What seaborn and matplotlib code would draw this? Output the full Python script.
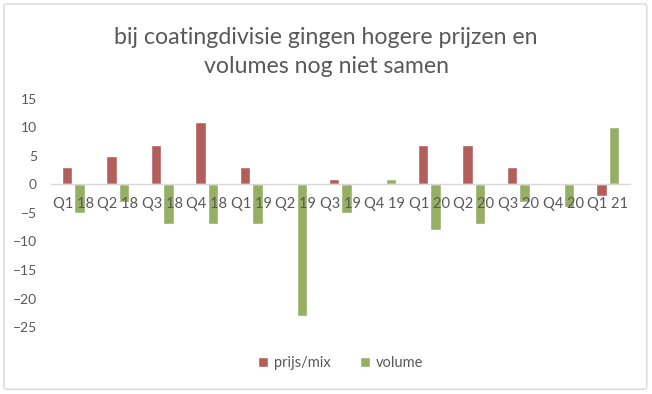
import matplotlib

matplotlib.use("Agg")
import matplotlib.pyplot as plt
import pandas as pd
import seaborn as sns
from matplotlib.patches import FancyBboxPatch

quarters = ["Q1 18", "Q2 18", "Q3 18", "Q4 18", "Q1 19", "Q2 19", "Q3 19",
            "Q4 19", "Q1 20", "Q2 20", "Q3 20", "Q4 20", "Q1 21"]
prijs_mix = [3, 5, 7, 11, 3, 0, 1, 0, 7, 7, 3, 0, -2]
volume = [-5, -3, -7, -7, -7, -23, -5, 1, -8, -7, -3, -4, 10]
series_names = ["prijs/mix", "volume"]
y_ticks = [-25, -20, -15, -10, -5, 0, 5, 10, 15]
title_lines = ["bij coatingdivisie gingen hogere prijzen en", "volumes nog niet samen"]

df = pd.DataFrame({
    "kwartaal": quarters * 2,
    "waarde": prijs_mix + volume,
    "reeks": [series_names[0]] * len(quarters) + [series_names[1]] * len(quarters),
})

sns.set_theme(style="white")
plt.rcParams["font.family"] = ["Lato", "DejaVu Sans"]
grey = "#595959"

fig = plt.figure(figsize=(6.52, 3.94), dpi=100)
ax = fig.add_axes([0.078, 0.170, 0.888, 0.579])

sns.barplot(data=df, x="kwartaal", y="waarde", hue="reeks", order=quarters,
            hue_order=series_names, palette=["#C0504D", "#9BBB59"],
            width=0.56, gap=0.16, ax=ax, legend=True)

ax.set_ylim(-25, 15)
ax.set_yticks(y_ticks)
ax.set_xlim(-0.5, len(quarters) - 0.5)
ax.set_xlabel("")
ax.set_ylabel("")
ax.set_axisbelow(False)
for side in ["left", "right", "top"]:
    ax.spines[side].set_visible(False)
ax.spines["bottom"].set_position(("data", 0))
ax.spines["bottom"].set_color("#D9D9D9")
ax.spines["bottom"].set_linewidth(1.0)
ax.tick_params(axis="x", length=0, pad=9, labelsize=10.5, labelcolor=grey)
ax.tick_params(axis="y", length=0, pad=10, labelsize=10, labelcolor=grey)

ax.legend(loc="center", bbox_to_anchor=(0.5, -0.158), ncol=2, frameon=False,
          fontsize=10.5, labelcolor=grey, handlelength=0.7, handleheight=0.7,
          columnspacing=2.0, handletextpad=0.4)

# title, scaled so the first line is about 424 px wide like the reference
t1 = fig.text(0.5, 0.906, title_lines[0], ha="center", va="center", fontsize=15, color=grey)
renderer = fig.canvas.get_renderer()
size = 15 * 424 / t1.get_window_extent(renderer).width
t1.set_fontsize(size)
fig.text(0.5, 0.832, title_lines[1], ha="center", va="center", fontsize=size, color=grey)

border = FancyBboxPatch((0.006, 0.012), 0.986, 0.978, boxstyle="round,pad=0,rounding_size=0.005",
                        transform=fig.transFigure, fill=False, edgecolor="#D9D9D9", linewidth=1.0)
fig.patches.append(border)

fig.savefig("out.png", dpi=100)
